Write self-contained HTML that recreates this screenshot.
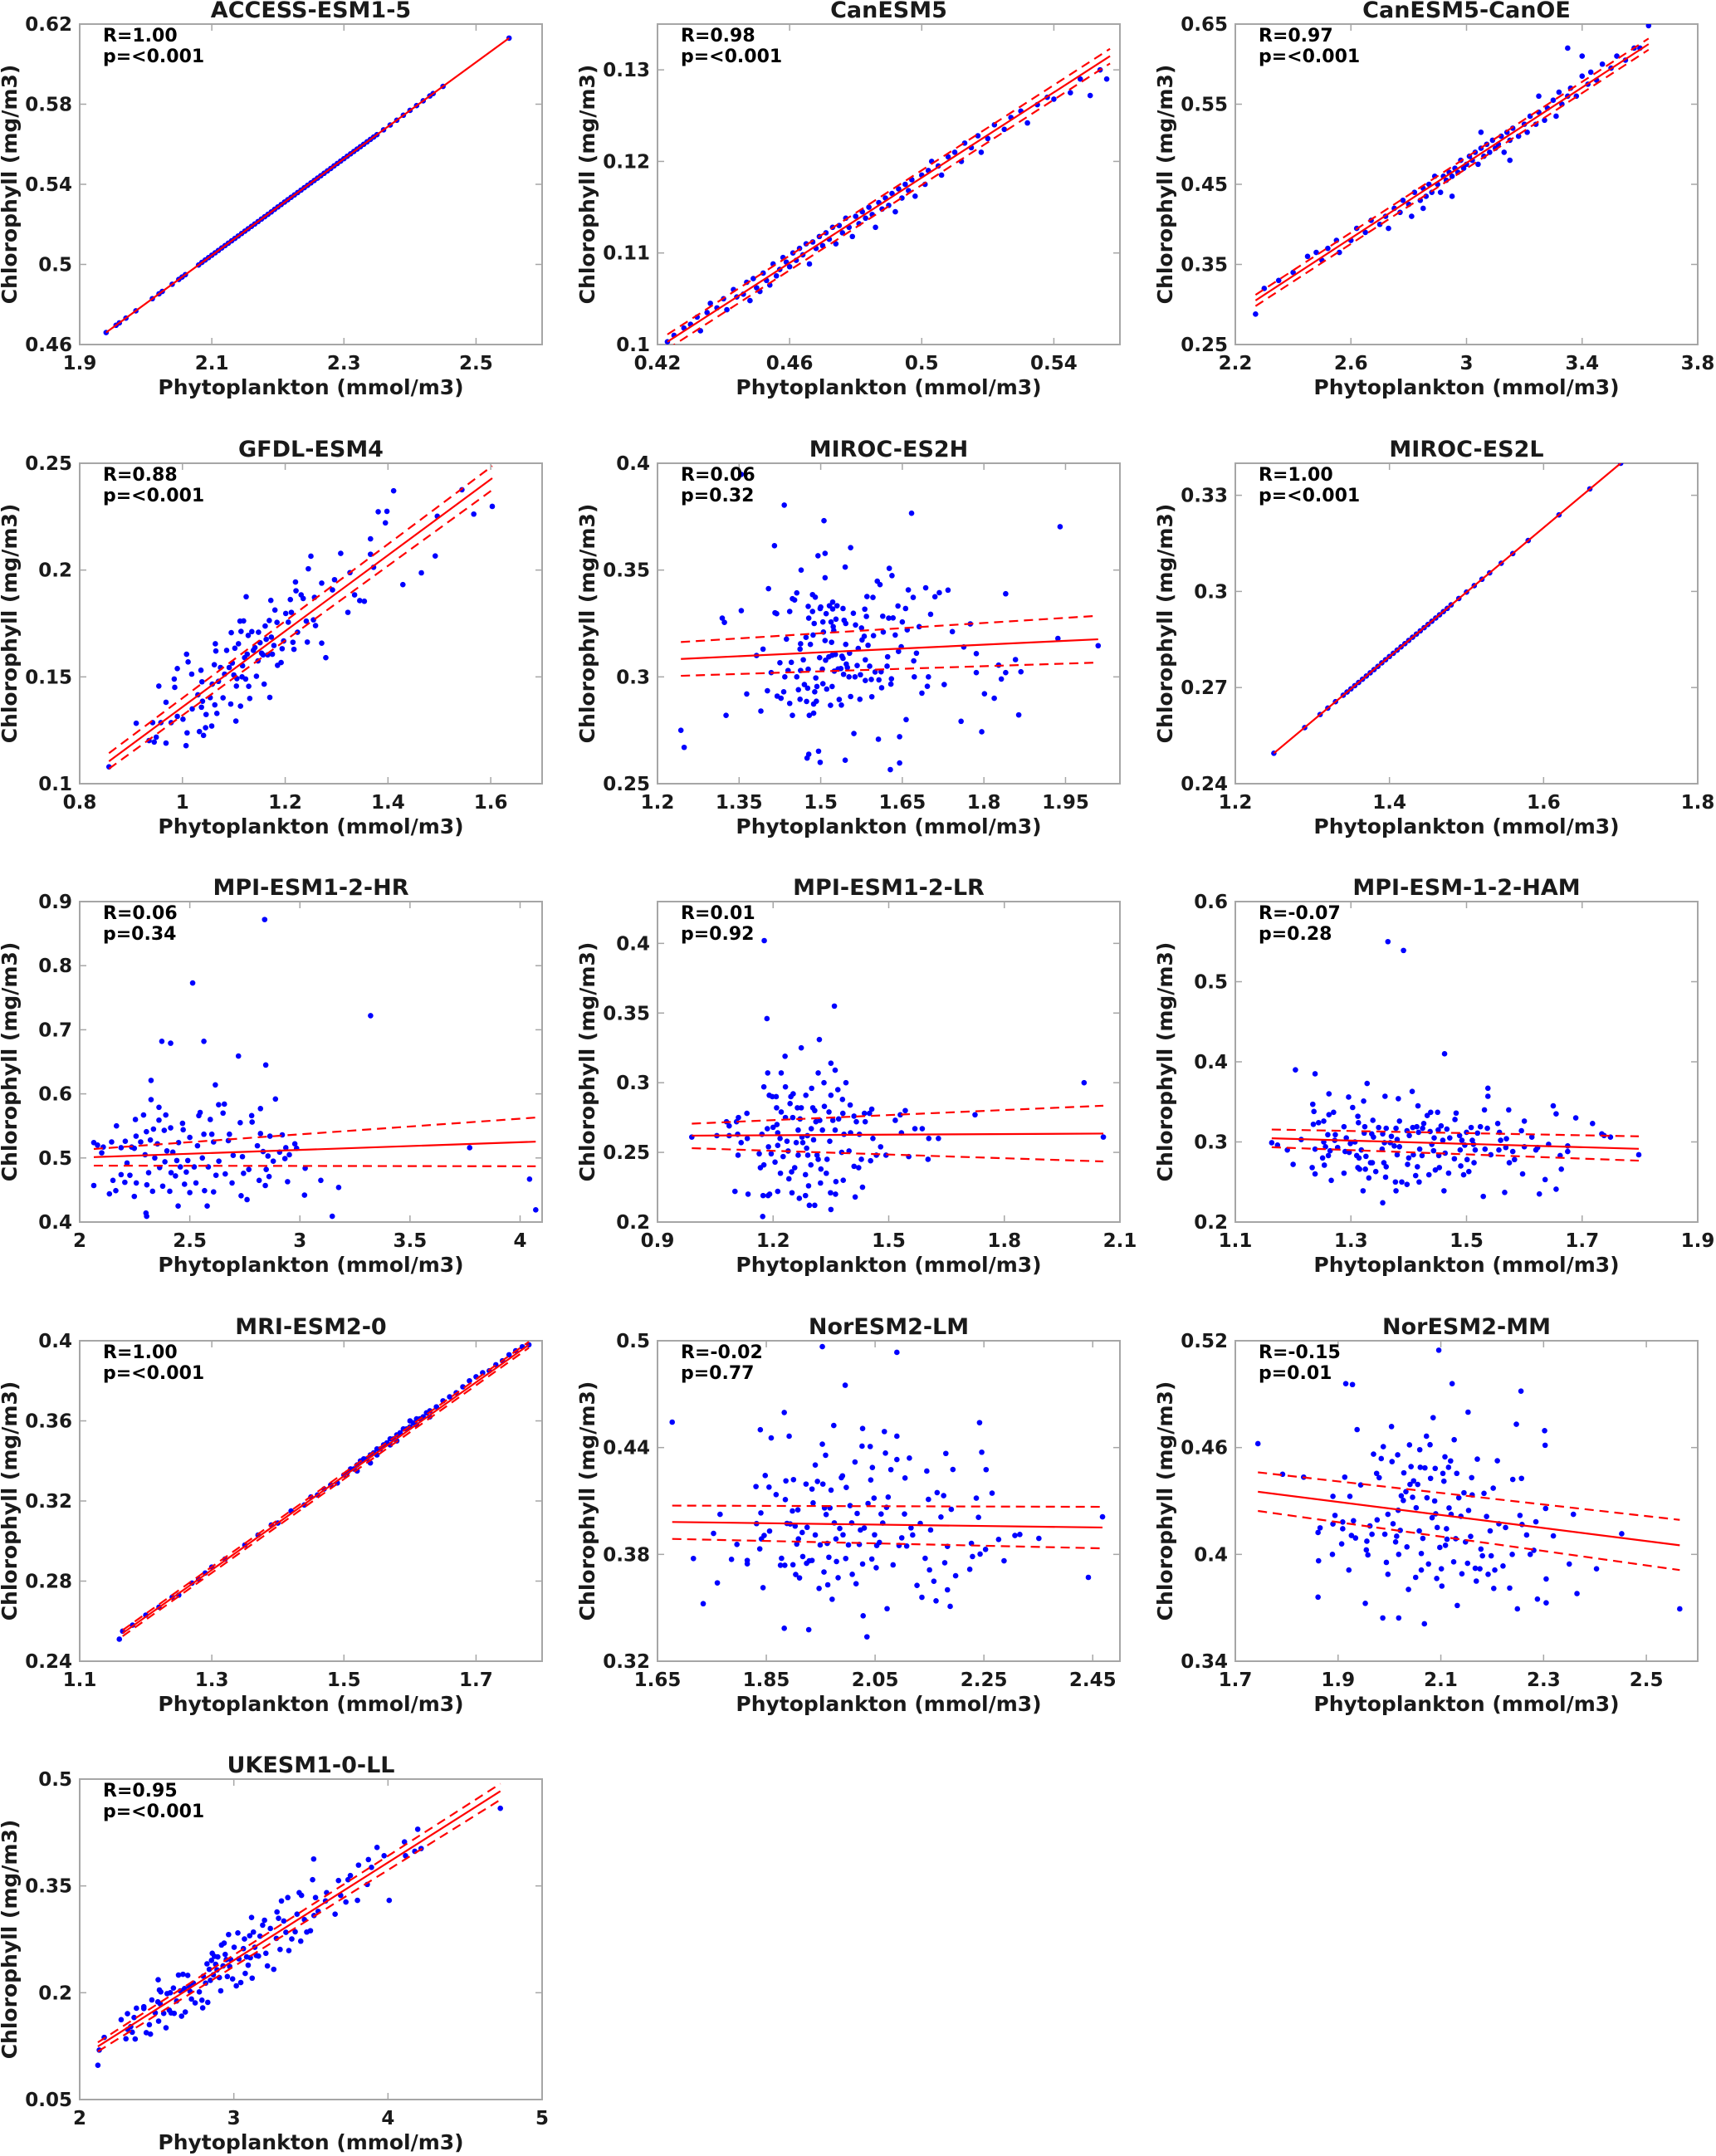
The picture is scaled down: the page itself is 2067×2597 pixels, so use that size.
<!DOCTYPE html>
<html><head><meta charset="utf-8"><title>Chlorophyll vs Phytoplankton</title>
<style>
html,body{margin:0;padding:0;background:#fff;}
svg{display:block;font-family:"DejaVu Sans","Liberation Sans",sans-serif;font-weight:bold;}
</style></head>
<body>
<svg id="fig" width="2067" height="2597" viewBox="0 0 2067 2597" xmlns="http://www.w3.org/2000/svg"></svg>
<script>
// ---------- data ----------
const accessPts=[[1.94,.466],[1.955,.4696],[1.96,.4708],[1.97,.4732],[1.985,.4768],[2.01,.4829],[2.02,.4853],[2.025,.4865],[2.04,.4901],[2.05,.4925],[2.055,.4937],[2.06,.4949],[2.08,.4997],[2.085,.501],[2.09,.5022],[2.095,.5034],[2.10,.5046],[2.105,.5058],[2.11,.507],[2.115,.5082],[2.12,.5094],[2.125,.5106],[2.13,.5118],[2.135,.513],[2.14,.5142],[2.145,.5154],[2.15,.5166],[2.155,.5178],[2.16,.519],[2.165,.5202],[2.17,.5214],[2.175,.5226],[2.18,.5238],[2.185,.525],[2.19,.5262],[2.195,.5275],[2.20,.5287],[2.205,.5299],[2.21,.5311],[2.215,.5323],[2.22,.5335],[2.225,.5347],[2.23,.5359],[2.235,.5371],[2.24,.5383],[2.245,.5395],[2.25,.5407],[2.255,.5419],[2.26,.5431],[2.265,.5443],[2.27,.5455],[2.275,.5467],[2.28,.5479],[2.285,.5492],[2.29,.5504],[2.295,.5516],[2.30,.5528],[2.305,.554],[2.31,.5552],[2.315,.5564],[2.32,.5576],[2.325,.5588],[2.33,.56],[2.335,.5612],[2.34,.5624],[2.345,.5636],[2.35,.5648],[2.36,.5672],[2.37,.5696],[2.38,.572],[2.39,.5745],[2.40,.5769],[2.41,.5793],[2.42,.5817],[2.43,.5841],[2.435,.5853],[2.45,.5889],[2.55,.613]];
const accessFitX=[1.94,2.55],accessFitY=[.466,.613],accessUpY=[.466,.613],accessLoY=[.466,.613];

const canPts=[[.423,.1003],[.425,.101],[.428,.1018],[.43,.1022],[.432,.103],[.433,.1015],[.435,.1035],[.436,.1045],[.438,.104],[.44,.105],[.441,.1038],[.443,.106],[.444,.1052],[.446,.1055],[.447,.1068],[.448,.1048],[.449,.1072],[.45,.1062],[.451,.1058],[.452,.1078],[.453,.107],[.454,.1065],[.455,.1088],[.456,.1075],[.457,.1082],[.458,.1095],[.459,.109],[.46,.1085],[.461,.11],[.462,.1092],[.463,.1105],[.464,.1098],[.465,.111],[.466,.1088],[.467,.1112],[.468,.1105],[.469,.1118],[.47,.1108],[.471,.1122],[.472,.1115],[.473,.1128],[.474,.111],[.475,.113],[.476,.1122],[.477,.1138],[.478,.1128],[.479,.1118],[.48,.114],[.481,.1132],[.482,.1145],[.483,.1138],[.484,.115],[.485,.1142],[.486,.1128],[.487,.1155],[.488,.1148],[.489,.116],[.49,.1152],[.491,.1165],[.492,.1145],[.493,.117],[.494,.116],[.495,.1175],[.496,.1168],[.497,.118],[.498,.1162],[.5,.1185],[.501,.1175],[.502,.119],[.503,.12],[.505,.1195],[.506,.1185],[.508,.1205],[.51,.121],[.512,.12],[.513,.122],[.515,.1215],[.517,.1228],[.518,.121],[.52,.1225],[.522,.124],[.525,.1235],[.527,.1248],[.53,.1255],[.532,.1242],[.535,.1262],[.538,.127],[.54,.1268],[.545,.1275],[.548,.129],[.551,.1272],[.554,.13],[.556,.129]];
const canFitX=[.423,.557],canFitY=[.1003,.1315],canUpY=[.1011,.1323],canLoY=[.0995,.1307];

const canoePts=[[2.27,.288],[2.3,.32],[2.35,.33],[2.4,.34],[2.45,.36],[2.48,.365],[2.5,.355],[2.52,.37],[2.55,.38],[2.56,.365],[2.6,.38],[2.62,.395],[2.65,.39],[2.67,.405],[2.7,.40],[2.72,.41],[2.73,.395],[2.75,.42],[2.77,.415],[2.78,.43],[2.8,.425],[2.81,.41],[2.82,.44],[2.84,.43],[2.85,.445],[2.86,.435],[2.87,.45],[2.88,.44],[2.89,.46],[2.9,.45],[2.91,.44],[2.92,.46],[2.93,.455],[2.94,.465],[2.95,.46],[2.96,.47],[2.97,.465],[2.98,.48],[2.99,.47],[3.0,.475],[3.01,.485],[3.02,.48],[3.03,.49],[3.04,.475],[3.05,.495],[3.06,.485],[3.07,.50],[3.08,.49],[3.09,.505],[3.1,.495],[3.11,.50],[3.12,.51],[3.13,.49],[3.14,.515],[3.15,.505],[3.16,.52],[3.18,.51],[3.2,.525],[3.21,.515],[3.22,.535],[3.24,.525],[3.25,.54],[3.27,.53],[3.28,.545],[3.3,.555],[3.31,.535],[3.32,.565],[3.33,.55],[3.35,.56],[3.36,.57],[3.38,.56],[3.4,.585],[3.42,.575],[3.43,.59],[3.45,.58],[3.47,.60],[3.5,.595],[3.52,.61],[3.55,.605],[3.58,.62],[3.6,.62],[3.63,.648],[3.15,.48],[3.05,.515],[2.95,.435],[3.25,.56],[2.85,.42],[3.4,.61],[3.35,.62]];
const canoeFitX=[2.27,3.63],canoeFitY=[.305,.625],canoeUpY=[.312,.632],canoeLoY=[.298,.618];

const gfdlPts=[[.857,.1079],[.91,.1283],[.935,.1202],[.942,.1286],[.945,.1195],[.949,.1218],[.954,.1457],[.958,.1286],[.968,.1381],[.968,.119],[.978,.1286],[.984,.149],[.985,.1451],[.99,.1539],[.99,.1315],[1.001,.1302],[1.008,.1606],[1.009,.1238],[1.011,.157],[1.018,.1513],[1.019,.135],[1.007,.1178],[1.03,.1416],[1.033,.1244],[1.036,.1531],[1.037,.1358],[1.038,.1477],[1.039,.1386],[1.041,.1226],[1.045,.1262],[1.046,.1324],[1.054,.1403],[1.057,.127],[1.058,.1466],[1.062,.1557],[1.063,.1369],[1.064,.1655],[1.065,.1621],[1.067,.1329],[1.07,.1479],[1.074,.1544],[1.079,.1402],[1.082,.1513],[1.086,.1624],[1.091,.1544],[1.094,.1373],[1.095,.1707],[1.097,.1565],[1.1,.1509],[1.102,.1634],[1.104,.1293],[1.105,.1457],[1.106,.1492],[1.109,.1655],[1.112,.1761],[1.113,.1363],[1.114,.1713],[1.116,.15],[1.117,.1552],[1.119,.1762],[1.121,.159],[1.123,.149],[1.124,.1875],[1.126,.1606],[1.128,.1694],[1.129,.1456],[1.131,.1399],[1.135,.1712],[1.138,.1624],[1.141,.1637],[1.144,.1503],[1.147,.1575],[1.148,.1709],[1.151,.166],[1.154,.1611],[1.157,.1603],[1.159,.1466],[1.161,.1738],[1.163,.1676],[1.166,.1603],[1.169,.1764],[1.17,.1404],[1.172,.1858],[1.173,.1686],[1.175,.1606],[1.178,.1647],[1.18,.1813],[1.184,.1755],[1.185,.1554],[1.192,.1567],[1.194,.1632],[1.197,.1668],[1.201,.1797],[1.206,.1756],[1.21,.1862],[1.212,.1802],[1.215,.1662],[1.217,.1629],[1.22,.1944],[1.221,.1903],[1.224,.1709],[1.231,.1884],[1.235,.1867],[1.241,.1761],[1.243,.1663],[1.245,.2006],[1.25,.2065],[1.255,.1767],[1.257,.1872],[1.259,.174],[1.271,.1939],[1.271,.1658],[1.279,.159],[1.292,.1907],[1.296,.1955],[1.308,.2078],[1.322,.1802],[1.326,.1988],[1.335,.1884],[1.345,.1857],[1.354,.1854],[1.366,.2146],[1.366,.2074],[1.372,.2013],[1.381,.2273],[1.395,.2221],[1.398,.2275],[1.411,.2371],[1.429,.1932],[1.465,.1987],[1.492,.2066],[1.496,.2252],[1.544,.2376],[1.567,.2262],[1.603,.2298]];
const gfdlFitX=[.857,1.603],gfdlFitY=[.1105,.243],gfdlUpY=[.1143,.2487],gfdlLoY=[.107,.2375];

const es2hPts=[[1.243,.275],[1.249,.267],[1.319,.3275],[1.323,.3255],[1.326,.282],[1.354,.331],[1.354,.3948],[1.364,.292],[1.382,.31],[1.39,.284],[1.394,.313],[1.402,.2935],[1.404,.3413],[1.409,.302],[1.415,.3614],[1.416,.33],[1.419,.3296],[1.42,.291],[1.425,.3066],[1.427,.29],[1.432,.293],[1.433,.3804],[1.434,.3],[1.437,.3177],[1.44,.303],[1.443,.3306],[1.443,.2876],[1.446,.3068],[1.448,.282],[1.448,.3366],[1.452,.336],[1.456,.3393],[1.456,.3],[1.459,.294],[1.462,.313],[1.463,.3155],[1.463,.303],[1.464,.35],[1.462,.2895],[1.468,.308],[1.47,.2964],[1.473,.3185],[1.474,.2885],[1.476,.2947],[1.477,.3036],[1.477,.333],[1.478,.3275],[1.479,.282],[1.481,.3152],[1.475,.262],[1.478,.2638],[1.485,.3385],[1.485,.3306],[1.486,.3196],[1.487,.2873],[1.487,.283],[1.488,.325],[1.489,.293],[1.49,.3373],[1.491,.2995],[1.492,.2886],[1.493,.2955],[1.495,.3567],[1.496,.2652],[1.498,.309],[1.499,.332],[1.499,.26],[1.5,.3327],[1.503,.3036],[1.504,.3257],[1.504,.2968],[1.505,.321],[1.506,.3731],[1.508,.3464],[1.508,.3578],[1.508,.317],[1.509,.3078],[1.51,.3296],[1.511,.2943],[1.515,.3094],[1.516,.3333],[1.518,.2867],[1.519,.3257],[1.52,.3162],[1.521,.3101],[1.521,.2955],[1.522,.335],[1.522,.3318],[1.523,.3235],[1.524,.3217],[1.525,.3027],[1.527,.3105],[1.528,.327],[1.53,.3333],[1.532,.3037],[1.534,.2894],[1.537,.3039],[1.538,.2868],[1.539,.3097],[1.541,.332],[1.541,.3087],[1.542,.3012],[1.543,.3265],[1.545,.261],[1.545,.3514],[1.546,.325],[1.546,.3152],[1.547,.306],[1.549,.3044],[1.552,.3],[1.553,.3111],[1.555,.3605],[1.555,.2908],[1.56,.3298],[1.561,.2735],[1.563,.3],[1.564,.3243],[1.567,.3053],[1.569,.3133],[1.572,.2895],[1.573,.301],[1.575,.3229],[1.576,.3173],[1.58,.319],[1.581,.3317],[1.582,.308],[1.582,.2983],[1.584,.3283],[1.585,.3376],[1.587,.3148],[1.59,.305],[1.593,.2988],[1.594,.2907],[1.596,.3372],[1.597,.3193],[1.6,.3023],[1.604,.3448],[1.606,.2708],[1.607,.2986],[1.609,.3432],[1.611,.3024],[1.612,.2949],[1.614,.3284],[1.615,.321],[1.622,.305],[1.623,.3094],[1.625,.3275],[1.626,.3508],[1.628,.2566],[1.629,.2966],[1.63,.2991],[1.631,.3474],[1.633,.3276],[1.637,.3196],[1.642,.3332],[1.643,.3119],[1.645,.272],[1.645,.2597],[1.648,.3141],[1.65,.3257],[1.656,.332],[1.657,.28],[1.659,.322],[1.661,.3407],[1.667,.3766],[1.67,.3372],[1.671,.3075],[1.672,.3],[1.676,.3111],[1.681,.3235],[1.686,.2924],[1.693,.3417],[1.696,.2956],[1.698,.3],[1.702,.3293],[1.71,.3375],[1.718,.3394],[1.727,.2964],[1.734,.3406],[1.742,.3212],[1.758,.2792],[1.763,.314],[1.775,.3248],[1.786,.302],[1.786,.3109],[1.796,.2743],[1.801,.2921],[1.819,.29],[1.827,.3055],[1.832,.299],[1.84,.3389],[1.84,.302],[1.858,.3081],[1.864,.2822],[1.868,.3024],[1.936,.318],[1.94,.3703],[2.01,.3146]];
const es2hFitX=[1.243,2.01],es2hFitY=[.3084,.3176],es2hUpY=[.3163,.3286],es2hLoY=[.3005,.3067];

const es2lPts=[[1.25,.2495],[1.29,.2575],[1.31,.2616],[1.32,.2636],[1.33,.2656],[1.34,.2676],[1.345,.2686],[1.35,.2696],[1.355,.2706],[1.36,.2716],[1.365,.2726],[1.37,.2736],[1.375,.2746],[1.38,.2756],[1.385,.2766],[1.39,.2777],[1.395,.2787],[1.40,.2797],[1.405,.2807],[1.41,.2817],[1.415,.2827],[1.42,.2837],[1.425,.2847],[1.43,.2857],[1.435,.2867],[1.44,.2877],[1.445,.2887],[1.45,.2897],[1.455,.2907],[1.46,.2917],[1.465,.2927],[1.47,.2937],[1.475,.2947],[1.48,.2958],[1.49,.2978],[1.50,.2998],[1.51,.3018],[1.52,.3038],[1.53,.3058],[1.545,.3088],[1.56,.3118],[1.58,.3159],[1.62,.3239],[1.66,.332],[1.70,.34]];
const es2lFitX=[1.25,1.70],es2lFitY=[.2495,.34],es2lUpY=[.2495,.34],es2lLoY=[.2495,.34];

const hrPts=[[2.064,.524],[2.081,.52],[2.1,.508],[2.107,.517],[2.064,.457],[2.145,.525],[2.151,.465],[2.164,.449],[2.135,.444],[2.167,.55],[2.188,.516],[2.207,.526],[2.215,.492],[2.188,.474],[2.205,.462],[2.228,.473],[2.236,.517],[2.248,.515],[2.253,.56],[2.256,.534],[2.257,.461],[2.248,.44],[2.277,.525],[2.29,.567],[2.297,.505],[2.301,.414],[2.304,.409],[2.303,.541],[2.305,.458],[2.313,.477],[2.321,.528],[2.324,.621],[2.324,.591],[2.331,.448],[2.335,.545],[2.341,.5],[2.353,.522],[2.36,.579],[2.36,.559],[2.363,.485],[2.373,.682],[2.377,.456],[2.384,.543],[2.387,.494],[2.391,.567],[2.396,.511],[2.409,.448],[2.413,.679],[2.413,.547],[2.415,.477],[2.423,.509],[2.435,.472],[2.441,.496],[2.447,.425],[2.449,.524],[2.457,.486],[2.467,.554],[2.47,.544],[2.476,.459],[2.484,.478],[2.491,.496],[2.5,.532],[2.5,.446],[2.513,.773],[2.52,.486],[2.528,.461],[2.535,.519],[2.541,.566],[2.547,.571],[2.557,.5],[2.564,.682],[2.564,.537],[2.567,.449],[2.579,.425],[2.584,.486],[2.593,.56],[2.6,.537],[2.608,.525],[2.608,.447],[2.616,.614],[2.619,.473],[2.631,.583],[2.632,.495],[2.651,.57],[2.657,.584],[2.661,.475],[2.675,.527],[2.68,.537],[2.692,.461],[2.697,.504],[2.721,.659],[2.729,.555],[2.733,.441],[2.739,.502],[2.744,.476],[2.76,.435],[2.768,.482],[2.781,.566],[2.783,.556],[2.807,.519],[2.815,.465],[2.821,.577],[2.821,.538],[2.833,.51],[2.84,.872],[2.843,.457],[2.845,.645],[2.847,.482],[2.855,.503],[2.86,.471],[2.864,.534],[2.879,.495],[2.889,.592],[2.908,.509],[2.92,.536],[2.932,.499],[2.936,.516],[2.944,.463],[2.952,.505],[2.977,.522],[2.985,.515],[3.021,.442],[3.024,.484],[3.095,.465],[3.147,.409],[3.176,.454],[3.321,.722],[3.771,.516],[4.043,.467],[4.071,.419]];
const hrFitX=[2.064,4.071],hrFitY=[.5013,.5254],hrUpY=[.514,.563],hrLoY=[.488,.487];

const lrPts=[[.989,.261],[1.054,.262],[1.079,.272],[1.086,.269],[1.086,.262],[1.105,.272],[1.11,.275],[1.108,.263],[1.109,.248],[1.101,.222],[1.117,.257],[1.132,.278],[1.133,.26],[1.135,.22],[1.164,.249],[1.167,.239],[1.171,.263],[1.173,.204],[1.174,.219],[1.176,.297],[1.176,.241],[1.177,.402],[1.184,.346],[1.185,.267],[1.186,.307],[1.187,.219],[1.188,.254],[1.19,.291],[1.191,.22],[1.195,.249],[1.198,.29],[1.2,.268],[1.205,.243],[1.208,.29],[1.209,.282],[1.21,.27],[1.212,.255],[1.212,.264],[1.212,.222],[1.218,.26],[1.219,.235],[1.221,.307],[1.221,.279],[1.226,.247],[1.231,.319],[1.232,.297],[1.232,.275],[1.236,.258],[1.239,.251],[1.241,.231],[1.244,.285],[1.246,.29],[1.248,.236],[1.249,.221],[1.251,.275],[1.252,.292],[1.256,.239],[1.26,.257],[1.263,.282],[1.265,.248],[1.265,.266],[1.268,.217],[1.27,.274],[1.273,.325],[1.273,.282],[1.275,.261],[1.277,.257],[1.284,.219],[1.284,.234],[1.285,.291],[1.287,.253],[1.289,.262],[1.29,.248],[1.292,.226],[1.294,.212],[1.298,.241],[1.299,.267],[1.3,.296],[1.303,.282],[1.305,.259],[1.308,.212],[1.308,.28],[1.311,.272],[1.314,.248],[1.317,.245],[1.317,.307],[1.32,.331],[1.321,.273],[1.323,.228],[1.324,.238],[1.328,.266],[1.332,.3],[1.333,.283],[1.338,.235],[1.34,.245],[1.345,.279],[1.347,.258],[1.349,.221],[1.35,.314],[1.35,.291],[1.35,.209],[1.355,.273],[1.359,.355],[1.361,.266],[1.361,.309],[1.362,.22],[1.363,.229],[1.368,.295],[1.37,.274],[1.378,.25],[1.38,.288],[1.381,.278],[1.382,.23],[1.384,.263],[1.389,.3],[1.397,.251],[1.4,.284],[1.401,.264],[1.41,.276],[1.41,.24],[1.413,.218],[1.416,.272],[1.422,.239],[1.424,.263],[1.429,.245],[1.432,.225],[1.437,.278],[1.439,.272],[1.45,.278],[1.453,.244],[1.456,.281],[1.459,.26],[1.468,.248],[1.479,.254],[1.493,.248],[1.517,.273],[1.53,.277],[1.533,.264],[1.543,.28],[1.552,.247],[1.568,.267],[1.587,.267],[1.602,.245],[1.604,.26],[1.629,.26],[1.724,.277],[2.007,.3],[2.057,.261]];
const lrFitX=[.989,2.057],lrFitY=[.262,.2635],lrUpY=[.2706,.2835],lrLoY=[.253,.2435];

const hamPts=[[1.163,.299],[1.173,.296],[1.19,.29],[1.2,.272],[1.204,.39],[1.214,.303],[1.233,.268],[1.234,.347],[1.236,.338],[1.235,.322],[1.238,.26],[1.238,.385],[1.238,.291],[1.244,.324],[1.251,.28],[1.253,.326],[1.253,.3],[1.254,.271],[1.256,.294],[1.26,.309],[1.261,.283],[1.262,.36],[1.262,.334],[1.264,.289],[1.266,.252],[1.27,.337],[1.272,.302],[1.273,.309],[1.277,.293],[1.288,.261],[1.288,.319],[1.29,.288],[1.292,.305],[1.296,.356],[1.297,.287],[1.299,.298],[1.303,.343],[1.307,.3],[1.31,.283],[1.312,.332],[1.312,.268],[1.313,.324],[1.314,.28],[1.315,.266],[1.318,.29],[1.321,.239],[1.322,.351],[1.323,.311],[1.324,.319],[1.325,.266],[1.326,.282],[1.328,.373],[1.331,.255],[1.334,.274],[1.336,.31],[1.337,.274],[1.338,.327],[1.339,.306],[1.343,.263],[1.348,.318],[1.354,.291],[1.355,.31],[1.355,.224],[1.357,.274],[1.358,.299],[1.359,.357],[1.36,.256],[1.361,.317],[1.361,.269],[1.364,.55],[1.368,.299],[1.37,.307],[1.375,.295],[1.377,.25],[1.378,.239],[1.378,.317],[1.38,.303],[1.38,.284],[1.382,.354],[1.384,.326],[1.384,.294],[1.388,.25],[1.391,.539],[1.397,.314],[1.397,.247],[1.398,.272],[1.4,.28],[1.401,.308],[1.406,.363],[1.407,.318],[1.408,.284],[1.412,.258],[1.414,.319],[1.415,.269],[1.416,.345],[1.417,.312],[1.418,.25],[1.419,.291],[1.423,.283],[1.424,.317],[1.426,.323],[1.432,.333],[1.435,.259],[1.437,.313],[1.438,.337],[1.44,.297],[1.443,.289],[1.444,.305],[1.446,.265],[1.45,.337],[1.451,.315],[1.452,.283],[1.453,.268],[1.456,.32],[1.459,.302],[1.461,.239],[1.462,.41],[1.463,.286],[1.466,.316],[1.469,.261],[1.471,.305],[1.479,.279],[1.48,.328],[1.482,.336],[1.488,.308],[1.489,.29],[1.49,.27],[1.492,.302],[1.495,.259],[1.497,.296],[1.5,.312],[1.501,.278],[1.504,.263],[1.508,.318],[1.51,.302],[1.512,.297],[1.513,.274],[1.515,.29],[1.519,.311],[1.524,.319],[1.529,.232],[1.531,.34],[1.532,.291],[1.537,.367],[1.537,.357],[1.536,.317],[1.542,.284],[1.554,.323],[1.556,.29],[1.557,.312],[1.559,.302],[1.566,.237],[1.568,.293],[1.569,.304],[1.573,.34],[1.574,.274],[1.58,.288],[1.583,.278],[1.595,.314],[1.597,.26],[1.6,.326],[1.6,.294],[1.613,.306],[1.62,.29],[1.623,.293],[1.626,.235],[1.636,.253],[1.642,.297],[1.65,.345],[1.655,.335],[1.655,.241],[1.662,.283],[1.664,.266],[1.675,.295],[1.675,.288],[1.689,.33],[1.718,.323],[1.734,.31],[1.738,.308],[1.749,.306],[1.798,.284]];
const hamFitX=[1.163,1.798],hamFitY=[.3045,.2914],hamUpY=[.3155,.307],hamLoY=[.2934,.2766];

const mriPts=[[1.16,.251],[1.165,.255],[1.18,.258],[1.2,.263],[1.22,.267],[1.24,.272],[1.25,.273],[1.27,.279],[1.28,.281],[1.29,.284],[1.3,.287],[1.32,.291],[1.35,.298],[1.37,.303],[1.39,.308],[1.4,.309],[1.42,.315],[1.44,.318],[1.45,.322],[1.46,.323],[1.47,.326],[1.48,.328],[1.49,.329],[1.5,.333],[1.505,.334],[1.51,.336],[1.515,.336],[1.52,.338],[1.525,.34],[1.53,.341],[1.535,.341],[1.54,.343],[1.545,.344],[1.55,.346],[1.555,.346],[1.56,.348],[1.565,.349],[1.57,.351],[1.575,.351],[1.58,.353],[1.585,.354],[1.59,.356],[1.595,.356],[1.6,.357],[1.605,.359],[1.61,.361],[1.615,.361],[1.62,.362],[1.625,.364],[1.63,.365],[1.64,.367],[1.65,.37],[1.66,.372],[1.67,.374],[1.68,.377],[1.69,.38],[1.7,.382],[1.71,.384],[1.72,.385],[1.73,.388],[1.74,.39],[1.75,.393],[1.76,.395],[1.77,.397],[1.78,.398],[1.52,.335],[1.55,.343],[1.58,.35],[1.61,.358],[1.57,.348],[1.6,.36],[1.63,.362],[1.54,.339]];
const mriFitX=[1.165,1.78],mriFitY=[.254,.398],mriUpY=[.2555,.3995],mriLoY=[.2525,.3965];

const lmPts=[[1.677,.4543],[1.716,.3777],[1.734,.3523],[1.753,.3918],[1.76,.364],[1.765,.4025],[1.786,.3772],[1.796,.3856],[1.815,.3766],[1.815,.3747],[1.831,.4181],[1.832,.3973],[1.838,.3831],[1.839,.45],[1.84,.4033],[1.841,.3887],[1.844,.3613],[1.846,.3906],[1.848,.4243],[1.855,.4178],[1.856,.3931],[1.859,.4454],[1.868,.4136],[1.876,.3739],[1.878,.3778],[1.883,.4597],[1.883,.3385],[1.884,.3739],[1.885,.4108],[1.886,.4213],[1.888,.3974],[1.892,.4464],[1.894,.3971],[1.898,.4044],[1.899,.3742],[1.9,.422],[1.903,.3959],[1.904,.3687],[1.906,.3858],[1.908,.405],[1.909,.3887],[1.911,.3668],[1.916,.3923],[1.917,.3788],[1.923,.4195],[1.924,.375],[1.925,.3952],[1.928,.3377],[1.929,.3764],[1.934,.4167],[1.934,.3766],[1.936,.4089],[1.94,.3909],[1.94,.4302],[1.944,.421],[1.947,.3609],[1.949,.3853],[1.953,.4419],[1.953,.4967],[1.954,.4195],[1.956,.3701],[1.957,.4061],[1.959,.4357],[1.96,.4024],[1.962,.3862],[1.963,.3629],[1.965,.3784],[1.967,.4061],[1.969,.4161],[1.971,.3548],[1.974,.4524],[1.975,.3977],[1.978,.3887],[1.979,.376],[1.982,.3669],[1.985,.3946],[1.988,.4231],[1.99,.4241],[1.991,.391],[1.995,.475],[1.996,.3777],[1.997,.4176],[2.001,.3853],[2.004,.4074],[2.007,.3977],[2.008,.3688],[2.013,.4319],[2.015,.3635],[2.017,.403],[2.021,.3856],[2.023,.3937],[2.026,.4408],[2.027,.3746],[2.027,.4507],[2.028,.3455],[2.03,.3948],[2.035,.3337],[2.037,.4086],[2.041,.4406],[2.042,.4218],[2.044,.3774],[2.045,.4288],[2.048,.4116],[2.049,.391],[2.052,.3725],[2.053,.385],[2.058,.3867],[2.061,.4027],[2.064,.3976],[2.067,.449],[2.069,.4369],[2.071,.4064],[2.072,.3495],[2.074,.4122],[2.079,.4276],[2.083,.3741],[2.09,.4935],[2.09,.4333],[2.09,.4464],[2.094,.385],[2.099,.3893],[2.104,.4027],[2.105,.4229],[2.108,.3847],[2.113,.4341],[2.116,.3949],[2.119,.3909],[2.127,.3626],[2.133,.3974],[2.136,.3559],[2.142,.3778],[2.145,.4268],[2.148,.4109],[2.15,.3713],[2.152,.3937],[2.158,.3649],[2.162,.3539],[2.164,.4147],[2.171,.401],[2.176,.413],[2.178,.3753],[2.18,.4367],[2.183,.3845],[2.183,.3601],[2.188,.3508],[2.19,.4053],[2.193,.4277],[2.198,.368],[2.224,.3716],[2.227,.3862],[2.229,.3788],[2.236,.4116],[2.24,.4008],[2.242,.454],[2.243,.3802],[2.246,.4374],[2.253,.3828],[2.254,.4276],[2.265,.4144],[2.277,.3884],[2.287,.3764],[2.307,.3906],[2.316,.3912],[2.351,.389],[2.442,.3671],[2.468,.4011]];
const lmFitX=[1.677,2.468],lmFitY=[.3982,.3951],lmUpY=[.4074,.4067],lmLoY=[.3887,.3834];

const mmPts=[[1.744,.4622],[1.792,.445],[1.833,.4434],[1.861,.4123],[1.861,.376],[1.862,.3964],[1.865,.4149],[1.889,.4],[1.89,.4326],[1.89,.4171],[1.894,.4219],[1.907,.4059],[1.909,.4182],[1.909,.4144],[1.913,.4434],[1.915,.4959],[1.921,.3912],[1.923,.4326],[1.926,.4106],[1.928,.4954],[1.93,.4189],[1.934,.4092],[1.937,.4701],[1.944,.439],[1.953,.3725],[1.955,.4025],[1.956,.4074],[1.958,.3997],[1.962,.416],[1.966,.4113],[1.969,.4563],[1.975,.4455],[1.976,.4194],[1.98,.4431],[1.984,.4538],[1.987,.3643],[1.988,.4605],[1.991,.4113],[1.994,.3955],[1.997,.3888],[1.997,.4225],[2.004,.4718],[2.005,.4521],[2.007,.4172],[2.012,.407],[2.014,.4102],[2.016,.4559],[2.017,.4248],[2.018,.3643],[2.018,.4],[2.021,.4135],[2.023,.4329],[2.027,.4303],[2.028,.4458],[2.032,.4352],[2.034,.4042],[2.037,.3803],[2.039,.4615],[2.04,.4393],[2.042,.4493],[2.045,.4321],[2.047,.4413],[2.051,.3871],[2.052,.4262],[2.055,.4393],[2.058,.4132],[2.059,.4588],[2.06,.4489],[2.062,.3912],[2.062,.4005],[2.065,.409],[2.068,.361],[2.069,.4486],[2.072,.4664],[2.073,.4318],[2.076,.3946],[2.079,.4616],[2.08,.4427],[2.083,.4206],[2.085,.4768],[2.088,.43],[2.089,.4483],[2.09,.4228],[2.092,.3865],[2.093,.4151],[2.096,.5147],[2.098,.4039],[2.101,.3919],[2.102,.3822],[2.104,.4455],[2.106,.4411],[2.108,.4548],[2.109,.4051],[2.111,.4144],[2.112,.4085],[2.115,.4489],[2.116,.4261],[2.119,.4525],[2.12,.4225],[2.122,.4959],[2.125,.3958],[2.126,.4644],[2.129,.4088],[2.131,.4455],[2.132,.3713],[2.135,.4318],[2.139,.4214],[2.141,.3891],[2.145,.4346],[2.148,.407],[2.152,.395],[2.153,.4799],[2.154,.4247],[2.158,.4101],[2.16,.4431],[2.161,.4334],[2.167,.3922],[2.169,.385],[2.171,.4535],[2.176,.3919],[2.178,.403],[2.181,.3992],[2.184,.4343],[2.189,.4213],[2.192,.3888],[2.196,.4132],[2.198,.3992],[2.202,.4372],[2.203,.3809],[2.205,.3912],[2.21,.4526],[2.213,.4172],[2.221,.3935],[2.226,.4151],[2.234,.3811],[2.239,.4],[2.24,.4421],[2.247,.4731],[2.249,.3694],[2.254,.4219],[2.256,.4917],[2.257,.4427],[2.258,.4168],[2.267,.4109],[2.274,.4],[2.281,.4023],[2.285,.4183],[2.288,.3749],[2.302,.4695],[2.303,.4613],[2.304,.4258],[2.305,.3862],[2.305,.3728],[2.319,.4104],[2.35,.3946],[2.358,.4225],[2.365,.378],[2.403,.3919],[2.452,.4116],[2.565,.3694]];
const mmFitX=[1.744,2.565],mmFitY=[.4352,.4051],mmUpY=[.4461,.4194],mmLoY=[.4244,.3912];

const ukPts=[[2.118,.0982],[2.127,.1195],[2.159,.1373],[2.269,.1621],[2.3,.1353],[2.31,.1706],[2.312,.1485],[2.331,.1524],[2.341,.1446],[2.353,.1652],[2.36,.135],[2.368,.1783],[2.416,.1803],[2.416,.1779],[2.432,.1439],[2.452,.1551],[2.459,.1419],[2.468,.1899],[2.49,.1717],[2.509,.2182],[2.507,.1872],[2.512,.1601],[2.517,.2039],[2.522,.1845],[2.526,.2012],[2.545,.171],[2.56,.1508],[2.567,.1988],[2.581,.1756],[2.588,.2],[2.593,.1717],[2.608,.2066],[2.613,.171],[2.629,.1884],[2.641,.2248],[2.653,.2027],[2.661,.1671],[2.67,.2259],[2.68,.2058],[2.685,.1729],[2.701,.2244],[2.711,.2089],[2.716,.2019],[2.725,.1911],[2.737,.2135],[2.749,.1857],[2.776,.2012],[2.793,.1895],[2.798,.1787],[2.802,.2232],[2.817,.2135],[2.826,.2406],[2.831,.1865],[2.841,.2329],[2.848,.2174],[2.855,.2453],[2.86,.2554],[2.867,.2252],[2.874,.2511],[2.882,.2399],[2.891,.2321],[2.896,.2503],[2.906,.2213],[2.915,.2027],[2.92,.267],[2.93,.2376],[2.937,.2697],[2.944,.2538],[2.951,.2465],[2.958,.2228],[2.966,.2817],[2.973,.2368],[2.98,.2465],[2.992,.2194],[3.002,.2639],[3.016,.2097],[3.026,.284],[3.033,.2476],[3.045,.2143],[3.062,.2619],[3.069,.2755],[3.074,.2271],[3.083,.2503],[3.093,.2387],[3.103,.2801],[3.107,.2492],[3.115,.3057],[3.119,.2205],[3.127,.2852],[3.136,.2639],[3.146,.2523],[3.16,.2515],[3.17,.2794],[3.187,.2949],[3.199,.3018],[3.208,.2554],[3.218,.2376],[3.237,.2902],[3.259,.2329],[3.276,.2763],[3.28,.3134],[3.29,.3045],[3.3,.2608],[3.309,.3289],[3.324,.3007],[3.338,.2848],[3.35,.3336],[3.357,.2592],[3.376,.2755],[3.398,.2856],[3.41,.3103],[3.424,.3405],[3.434,.2724],[3.439,.3367],[3.458,.3026],[3.473,.2852],[3.497,.2871],[3.511,.3587],[3.518,.3878],[3.52,.3084],[3.53,.3336],[3.547,.3142],[3.595,.3289],[3.602,.3405],[3.657,.3103],[3.679,.3576],[3.693,.3367],[3.727,.3274],[3.741,.3587],[3.756,.3645],[3.802,.3297],[3.809,.3792],[3.866,.3521],[3.873,.387],[3.893,.3761],[3.929,.404],[3.975,.3924],[4.008,.3297],[4.107,.4118],[4.114,.3924],[4.174,.3986],[4.193,.4296],[4.215,.4025],[4.729,.459]];
const ukFitX=[2.118,4.729],ukFitY=[.1245,.483],ukUpY=[.1303,.4935],ukLoY=[.1175,.471];

// tick label arrays
const accessXT=["1.9","2.1","2.3","2.5"], accessYT=["0.46","0.5","0.54","0.58","0.62"];
const canXT=["0.42","0.46","0.5","0.54"], canYT=["0.1","0.11","0.12","0.13"];
const canoeXT=["2.2","2.6","3","3.4","3.8"], canoeYT=["0.25","0.35","0.45","0.55","0.65"];
const gfdlXT=["0.8","1","1.2","1.4","1.6"], gfdlYT=["0.1","0.15","0.2","0.25"];
const es2hXT=["1.2","1.35","1.5","1.65","1.8","1.95"], es2hYT=["0.25","0.3","0.35","0.4"];
const es2lXT=["1.2","1.4","1.6","1.8"], es2lYT=["0.24","0.27","0.3","0.33"];
const hrXT=["2","2.5","3","3.5","4"], hrYT=["0.4","0.5","0.6","0.7","0.8","0.9"];
const lrXT=["0.9","1.2","1.5","1.8","2.1"], lrYT=["0.2","0.25","0.3","0.35","0.4"];
const hamXT=["1.1","1.3","1.5","1.7","1.9"], hamYT=["0.2","0.3","0.4","0.5","0.6"];
const mriXT=["1.1","1.3","1.5","1.7"], mriYT=["0.24","0.28","0.32","0.36","0.4"];
const lmXT=["1.65","1.85","2.05","2.25","2.45"], lmYT=["0.32","0.38","0.44","0.5"];
const mmXT=["1.7","1.9","2.1","2.3","2.5"], mmYT=["0.34","0.4","0.46","0.52"];
const ukXT=["2","3","4","5"], ukYT=["0.05","0.2","0.35","0.5"];

// panel definitions
const panels=[
 {id:"access",title:"ACCESS-ESM1-5",r:"R=1.00",p:"p=<0.001",col:0,row:0,xd:[1.9,2.6],yd:[.46,.62],xt:accessXT,yt:accessYT,pts:accessPts,fx:accessFitX,fy:accessFitY,up:accessUpY,lo:accessLoY,dash:false},
 {id:"canesm5",title:"CanESM5",r:"R=0.98",p:"p=<0.001",col:1,row:0,xd:[.42,.56],yd:[.1,.135],xt:canXT,yt:canYT,pts:canPts,fx:canFitX,fy:canFitY,up:canUpY,lo:canLoY,dash:true},
 {id:"canesm5-canoe",title:"CanESM5-CanOE",r:"R=0.97",p:"p=<0.001",col:2,row:0,xd:[2.2,3.8],yd:[.25,.65],xt:canoeXT,yt:canoeYT,pts:canoePts,fx:canoeFitX,fy:canoeFitY,up:canoeUpY,lo:canoeLoY,dash:true},
 {id:"gfdl-esm4",title:"GFDL-ESM4",r:"R=0.88",p:"p=<0.001",col:0,row:1,xd:[.8,1.7],yd:[.1,.25],xt:gfdlXT,yt:gfdlYT,pts:gfdlPts,fx:gfdlFitX,fy:gfdlFitY,up:gfdlUpY,lo:gfdlLoY,dash:true},
 {id:"miroc-es2h",title:"MIROC-ES2H",r:"R=0.06",p:"p=0.32",col:1,row:1,xd:[1.2,2.05],yd:[.25,.4],xt:es2hXT,yt:es2hYT,pts:es2hPts,fx:es2hFitX,fy:es2hFitY,up:es2hUpY,lo:es2hLoY,dash:true},
 {id:"miroc-es2l",title:"MIROC-ES2L",r:"R=1.00",p:"p=<0.001",col:2,row:1,xd:[1.2,1.8],yd:[.24,.34],xt:es2lXT,yt:es2lYT,pts:es2lPts,fx:es2lFitX,fy:es2lFitY,up:es2lUpY,lo:es2lLoY,dash:false},
 {id:"mpi-esm1-2-hr",title:"MPI-ESM1-2-HR",r:"R=0.06",p:"p=0.34",col:0,row:2,xd:[2,4.1],yd:[.4,.9],xt:hrXT,yt:hrYT,pts:hrPts,fx:hrFitX,fy:hrFitY,up:hrUpY,lo:hrLoY,dash:true},
 {id:"mpi-esm1-2-lr",title:"MPI-ESM1-2-LR",r:"R=0.01",p:"p=0.92",col:1,row:2,xd:[.9,2.1],yd:[.2,.43],xt:lrXT,yt:lrYT,pts:lrPts,fx:lrFitX,fy:lrFitY,up:lrUpY,lo:lrLoY,dash:true},
 {id:"mpi-esm-1-2-ham",title:"MPI-ESM-1-2-HAM",r:"R=-0.07",p:"p=0.28",col:2,row:2,xd:[1.1,1.9],yd:[.2,.6],xt:hamXT,yt:hamYT,pts:hamPts,fx:hamFitX,fy:hamFitY,up:hamUpY,lo:hamLoY,dash:true},
 {id:"mri-esm2-0",title:"MRI-ESM2-0",r:"R=1.00",p:"p=<0.001",col:0,row:3,xd:[1.1,1.8],yd:[.24,.4],xt:mriXT,yt:mriYT,pts:mriPts,fx:mriFitX,fy:mriFitY,up:mriUpY,lo:mriLoY,dash:true},
 {id:"noresm2-lm",title:"NorESM2-LM",r:"R=-0.02",p:"p=0.77",col:1,row:3,xd:[1.65,2.5],yd:[.32,.5],xt:lmXT,yt:lmYT,pts:lmPts,fx:lmFitX,fy:lmFitY,up:lmUpY,lo:lmLoY,dash:true},
 {id:"noresm2-mm",title:"NorESM2-MM",r:"R=-0.15",p:"p=0.01",col:2,row:3,xd:[1.7,2.6],yd:[.34,.52],xt:mmXT,yt:mmYT,pts:mmPts,fx:mmFitX,fy:mmFitY,up:mmUpY,lo:mmLoY,dash:true},
 {id:"ukesm1-0-ll",title:"UKESM1-0-LL",r:"R=0.95",p:"p=<0.001",col:0,row:4,xd:[2,5],yd:[.05,.5],xt:ukXT,yt:ukYT,pts:ukPts,fx:ukFitX,fy:ukFitY,up:ukUpY,lo:ukLoY,dash:true}
];

// ---------- drawing ----------
const NS="http://www.w3.org/2000/svg";
const svg=document.getElementById("fig");
const COLX=[96,792,1488], ROWY=[29,558,1086,1615,2143], PW=557, PH=386;
function mk(tag,attrs,parent){const e=document.createElementNS(NS,tag);for(const k in attrs)e.setAttribute(k,attrs[k]);parent.appendChild(e);return e;}

panels.forEach(P=>{
  const L=COLX[P.col], T=ROWY[P.row], R=L+PW, B=T+PH;
  const sx=v=>L+(v-P.xd[0])/(P.xd[1]-P.xd[0])*PW;
  const sy=v=>B-(v-P.yd[0])/(P.yd[1]-P.yd[0])*PH;
  const g=mk("g",{},svg);
  
  
  const clipId="clip-"+P.id;
  const cp=mk("clipPath",{id:clipId},g);
  mk("rect",{x:L,y:T,width:PW,height:PH},cp);
  const fr=mk("rect",{x:L,y:T,width:PW,height:PH,fill:"#fff",stroke:"#a6a6a6","stroke-width":2},g);
  
  
  P.xt.forEach(s=>{
    const v=parseFloat(s), x=sx(v);
    if(x>L+1&&x<R-1){
      mk("line",{x1:x,y1:B,x2:x,y2:B-8,stroke:"#a6a6a6","stroke-width":1.5},g);
      mk("line",{x1:x,y1:T,x2:x,y2:T+8,stroke:"#a6a6a6","stroke-width":1.5},g);
    }
    const t=mk("text",{x:x,y:B+30,"text-anchor":"middle","font-size":23,fill:"#1a1a1a"},g);
    t.textContent=s;
    
    
  });
  P.yt.forEach(s=>{
    const v=parseFloat(s), y=sy(v);
    if(y>T+1&&y<B-1){
      mk("line",{x1:L,y1:y,x2:L+8,y2:y,stroke:"#a6a6a6","stroke-width":1.5},g);
      mk("line",{x1:R,y1:y,x2:R-8,y2:y,stroke:"#a6a6a6","stroke-width":1.5},g);
    }
    const t=mk("text",{x:L-9,y:y+8,"text-anchor":"end","font-size":23,fill:"#1a1a1a"},g);
    t.textContent=s;
    
    
  });
  const pg=mk("g",{"clip-path":"url(#"+clipId+")"},g);
  
  
  P.pts.forEach(d=>{
    const c=mk("circle",{cx:sx(d[0]),cy:sy(d[1]),r:3.3,fill:"#0000ff"},pg);
    
    
  });
  const fit=mk("line",{x1:sx(P.fx[0]),y1:sy(P.fy[0]),x2:sx(P.fx[1]),y2:sy(P.fy[1]),stroke:"#ff0000","stroke-width":2.2},pg);
  
  
  if(P.dash){
    [P.up,P.lo].forEach((arr,i)=>{
      const l=mk("line",{x1:sx(P.fx[0]),y1:sy(arr[0]),x2:sx(P.fx[1]),y2:sy(arr[1]),stroke:"#ff0000","stroke-width":2.2,"stroke-dasharray":"11 7"},pg);
      
      
    });
  }
  const tt=mk("text",{x:L+PW/2,y:T-8,"text-anchor":"middle","font-size":27,fill:"#1a1a1a"},g);
  tt.textContent=P.title;
  
  
  const rt=mk("text",{x:L+28,y:T+21,"font-size":22,fill:"#000"},g);
  rt.textContent=P.r;
  
  
  const ptx=mk("text",{x:L+28,y:T+46,"font-size":22,fill:"#000"},g);
  ptx.textContent=P.p;
  
  
  const xl=mk("text",{x:L+PW/2,y:B+60,"text-anchor":"middle","font-size":25,fill:"#1a1a1a"},g);
  xl.textContent="Phytoplankton (mmol/m3)";
  
  
  const yx=L-76, yy=T+PH/2;
  const yl=mk("text",{x:yx,y:yy,"text-anchor":"middle","font-size":25,fill:"#1a1a1a",transform:"rotate(-90 "+yx+" "+yy+")"},g);
  yl.textContent="Chlorophyll (mg/m3)";
  
  
});
</script>
</body></html>
